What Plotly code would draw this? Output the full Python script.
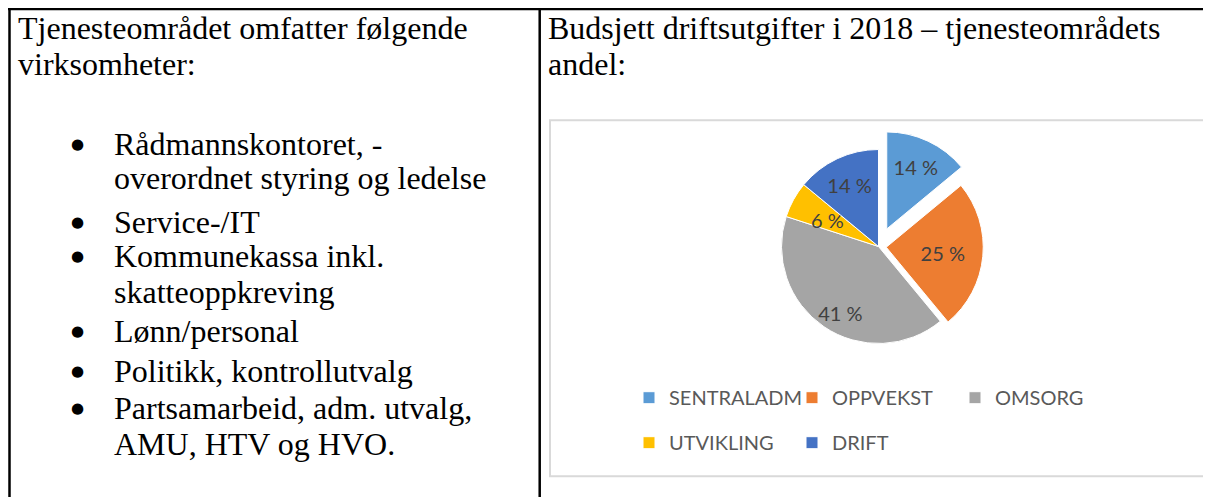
import plotly.graph_objects as go

# ---- data ----
categories = ["SENTRALADM", "OPPVEKST", "OMSORG", "UTVIKLING", "DRIFT"]
shares = [14, 25, 41, 6, 14]
colors = ["#5B9BD5", "#ED7D31", "#A5A5A5", "#FFC000", "#4472C4"]
pulls = [0.2, 0.08, 0, 0, 0]

left_title = ["Tjenesteområdet omfatter følgende", "virksomheter:"]
right_title = ["Budsjett driftsutgifter i 2018 \u2013 tjenesteområdets", "andel:"]
bullets = [
    ["Rådmannskontoret, -", "overordnet styring og ledelse"],
    ["Service-/IT"],
    ["Kommunekassa inkl.", "skatteoppkreving"],
    ["Lønn/personal"],
    ["Politikk, kontrollutvalg"],
    ["Partsamarbeid, adm. utvalg,", "AMU, HTV og HVO."],
]

# ---- layout geometry (page pixels; page has an 8px body margin) ----
W, H = 1211, 497
PAGE_OFF = 8
ML, MR, MT, MB = 560, 60, 0, 0
GW = W - ML - MR
GH = H - MT - MB


def px(x):
    return (x - PAGE_OFF - ML) / GW


def py(y):
    return 1 - (y - PAGE_OFF - MT) / GH


SERIF = "Liberation Serif"
FS = 32
BASE_OFF = 10.8  # baseline -> bbox centre for serif text

title_base = [39, 75]
bullet_base = [[155, 189], [233], [267, 303], [342], [382], [419, 455]]

# pie geometry
cx, cy, r = 878.5, 246.5, 97
half = r * (1 + max(pulls))

legend_labels = [
    '<span style="font-size:20px;baseline-shift:5px">%s</span>' % c for c in categories
]
NB = "\u00a0"
# label templates; blank lines / non-breaking spaces only nudge label placement
label_tpl = [
    "%{value} %",
    "%{value} %",
    NB + "<br>" + NB + "<br>%{value} %" + NB * 4,
    NB + "<br>" + NB * 8 + "%{value} %",
    "%{value} %",
]

fig = go.Figure()
fig.add_trace(
    go.Pie(
        labels=legend_labels,
        values=shares,
        sort=False,
        direction="clockwise",
        rotation=0,
        pull=pulls,
        marker=dict(colors=colors, line=dict(color="white", width=1)),
        texttemplate=label_tpl,
        textposition="inside",
        insidetextorientation="horizontal",
        textfont=dict(family="Lato", size=20, color="#404040"),
        hoverinfo="skip",
        domain=dict(
            x=[px(cx - half), px(cx + half)],
            y=[py(cy + half), py(cy - half)],
        ),
    )
)

annotations = []


def add_text(txt, x, base, anchor="left", size=FS, family=SERIF, off=BASE_OFF):
    annotations.append(
        dict(
            text=txt,
            x=px(x),
            y=py(base - off),
            xref="paper",
            yref="paper",
            xanchor=anchor,
            yanchor="middle",
            showarrow=False,
            font=dict(family=family, size=size, color="black"),
        )
    )


for line, b in zip(left_title, title_base):
    add_text(line, 16, b)
for line, b in zip(right_title, title_base):
    add_text(line, 546, b)
for lines, bases in zip(bullets, bullet_base):
    add_text("\u25CF", 77, bases[0], anchor="center", size=15, family="DejaVu Sans", off=11)
    for line, b in zip(lines, bases):
        add_text(line, 112, b)

shapes = [
    # table borders
    dict(type="line", xref="paper", yref="paper", x0=px(8), x1=px(1240), y0=py(9), y1=py(9),
         line=dict(color="black", width=2.5)),
    dict(type="line", xref="paper", yref="paper", x0=px(9.5), x1=px(9.5), y0=py(8), y1=py(520),
         line=dict(color="black", width=2.5)),
    dict(type="line", xref="paper", yref="paper", x0=px(539.7), x1=px(539.7), y0=py(8), y1=py(520),
         line=dict(color="black", width=2.5)),
    # chart frame
    dict(type="rect", xref="paper", yref="paper", x0=px(550), x1=px(1250), y0=py(120.3), y1=py(476.3),
         line=dict(color="#D9D9D9", width=2), fillcolor="rgba(0,0,0,0)"),
]

fig.update_layout(
    width=W,
    height=H,
    margin=dict(l=ML, r=MR, t=MT, b=MB),
    paper_bgcolor="white",
    plot_bgcolor="white",
    showlegend=True,
    legend=dict(
        orientation="h",
        x=px(629),
        xanchor="left",
        y=py(370.2),
        yanchor="top",
        entrywidth=118,
        entrywidthmode="pixels",
        font=dict(family="Lato", size=32.3, color="#595959"),
        bgcolor="rgba(0,0,0,0)",
        traceorder="normal",
    ),
    uniformtext=dict(minsize=20, mode="show"),
    annotations=annotations,
    shapes=shapes,
)

fig.write_html("out.html")
